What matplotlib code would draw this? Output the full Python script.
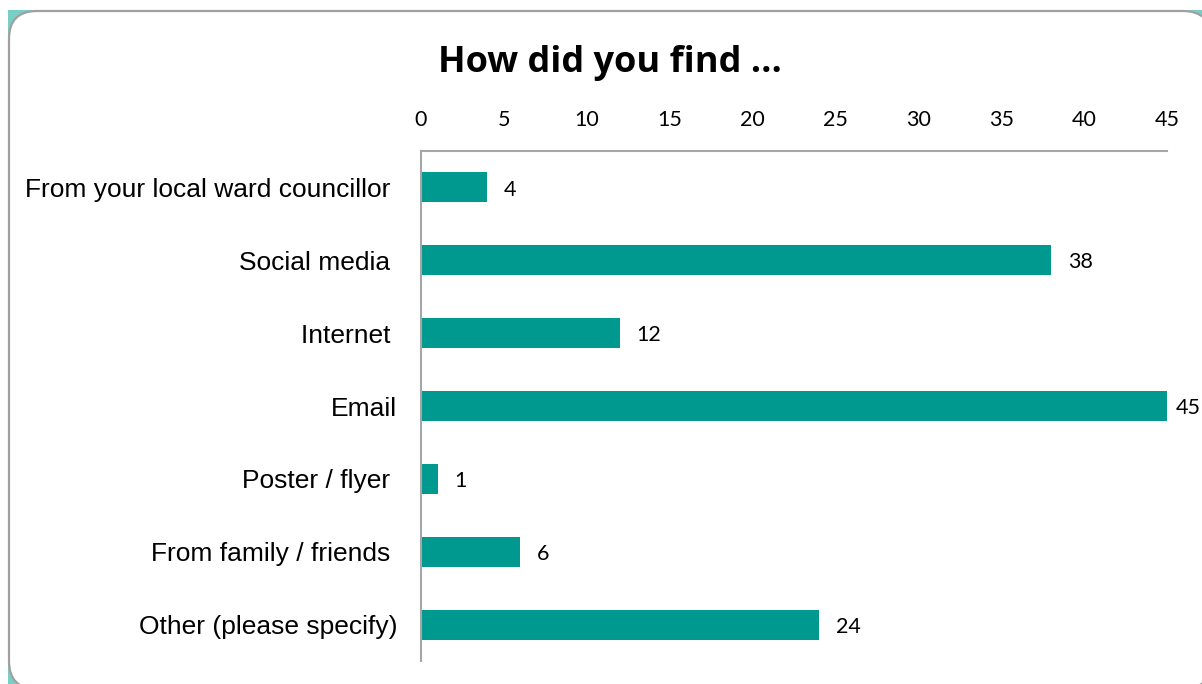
import matplotlib
matplotlib.use("Agg")
import matplotlib.pyplot as plt
import matplotlib.transforms as mtransforms
from matplotlib.patches import FancyBboxPatch, Rectangle

# Survey answers: how respondents heard about it
categories = ["From your local ward councillor ", "Social media ", "Internet ", "Email",
              "Poster / flyer ", "From family / friends ", "Other (please specify)"]
counts = [4, 38, 12, 45, 1, 6, 24]
ticks = [0, 5, 10, 15, 20, 25, 30, 35, 40, 45]

BAR = "#00998F"
GRID = "#A6A6A6"

W, H = 1202, 684
fig = plt.figure(figsize=(W / 100, H / 100), dpi=100)
fig.patch.set_facecolor("white")

# pixel-space transform for the background card (card runs slightly off the canvas)
px = mtransforms.Affine2D().scale(1 / W, 1 / H) + fig.transFigure
card_x0, card_y0, card_x1, card_y1 = 9, -5, 1211, 673
fig.patches.append(Rectangle((card_x0 - 1, card_y0), card_x1 - card_x0 + 1, card_y1 - card_y0 + 1,
                             transform=px, facecolor="#79CFC6", edgecolor="none", zorder=0))
fig.patches.append(FancyBboxPatch((card_x0, card_y0), card_x1 - card_x0, card_y1 - card_y0,
                                  boxstyle="round,pad=0,rounding_size=28",
                                  transform=px, facecolor="white",
                                  edgecolor="#A0A0A0", linewidth=1.6, zorder=1))

ax = fig.add_axes([421 / W, 1 - 661 / H, (1167 - 421) / W, (661 - 151) / H])
ax.set_facecolor("none")
ax.set_zorder(3)

y = list(range(len(categories)))
ax.barh(y, counts, height=0.41, color=BAR, zorder=2)
for yi, v in zip(y, counts):
    # labels at the axis end get pulled in so they stay on the card
    off = 6.5 if v >= ticks[-1] else 12
    ax.annotate(str(v), (v, yi), xytext=(off, -1.5), textcoords="offset points",
                va="center", ha="left", fontsize=15.5, family="Lato",
                color="black", annotation_clip=False)

ax.set_xlim(0, 45)
ax.set_ylim(len(categories) - 0.5, -0.5)
ax.xaxis.tick_top()
ax.set_xticks(ticks)
ax.set_xticklabels([str(t) for t in ticks], fontsize=15.5, family="Lato")
ax.set_yticks(y)
ax.set_yticklabels(categories, fontsize=19, family="Liberation Sans")
ax.tick_params(axis="x", length=0, pad=15)
ax.tick_params(axis="y", length=0, pad=17)

for side in ["right", "bottom"]:
    ax.spines[side].set_visible(False)
for side in ["top", "left"]:
    ax.spines[side].set_color(GRID)
    ax.spines[side].set_linewidth(1.5)

fig.text(610 / W, 1 - 72 / H, "How did you find ...", ha="center", va="baseline",
         fontsize=26, fontweight="bold", family="Open Sans")

fig.savefig("out.png", dpi=100)
